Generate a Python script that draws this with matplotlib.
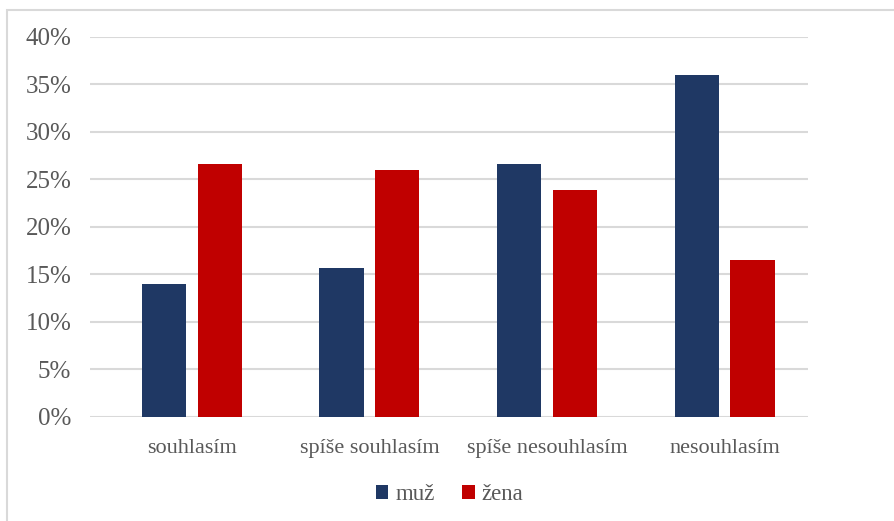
import numpy as np
import matplotlib.pyplot as plt
from matplotlib.patches import Rectangle
from matplotlib.ticker import FuncFormatter

# odpovedi a podily podle pohlavi (v %)
kategorie = ["souhlasím", "spíše souhlasím", "spíše nesouhlasím", "nesouhlasím"]
muz = [14.0, 15.6, 26.6, 36.0]
zena = [26.6, 26.0, 23.9, 16.5]

barva_muz = "#1F3864"
barva_zena = "#C00000"
seda = "#595959"

plt.rcParams["font.family"] = ["Liberation Serif", "DejaVu Serif"]

fig = plt.figure(figsize=(8.94, 5.21), dpi=100)
ax = fig.add_axes([0.1007, 0.2002, 0.8028, 0.7294])

x = np.arange(len(kategorie))
w = 0.248
ax.bar(x - 0.157, muz, w, color=barva_muz, label="muž", zorder=3)
ax.bar(x + 0.157, zena, w, color=barva_zena, label="žena", zorder=3)

ax.set_xlim(-0.573, 3.468)
ax.set_ylim(0, 40)
ax.set_yticks(np.arange(0, 41, 5))
ax.yaxis.set_major_formatter(FuncFormatter(lambda v, p: "%d%%" % v))
ax.set_xticks(x)
ax.set_xticklabels(kategorie)
ax.grid(axis="y", color="#D9D9D9", linewidth=1.5, zorder=0)
ax.tick_params(axis="both", length=0, colors=seda)
ax.tick_params(axis="x", pad=16, labelsize=16)
ax.tick_params(axis="y", pad=13.5, labelsize=18)
for s in ax.spines.values():
    s.set_visible(False)

leg = fig.legend(loc="center", bbox_to_anchor=(0.503, 0.05), ncol=2, frameon=False,
                 fontsize=16.5, handlelength=0.55, handleheight=0.55,
                 handletextpad=0.3, columnspacing=1.2)
for t in leg.get_texts():
    t.set_color(seda)

# ramecek grafu
fig.patches.append(Rectangle((7 / 894, -0.05), 1.2, 1 - 10 / 521 + 0.05,
                             transform=fig.transFigure, fill=False,
                             edgecolor="#D9D9D9", linewidth=1.5))

fig.savefig("out.png", dpi=100)
